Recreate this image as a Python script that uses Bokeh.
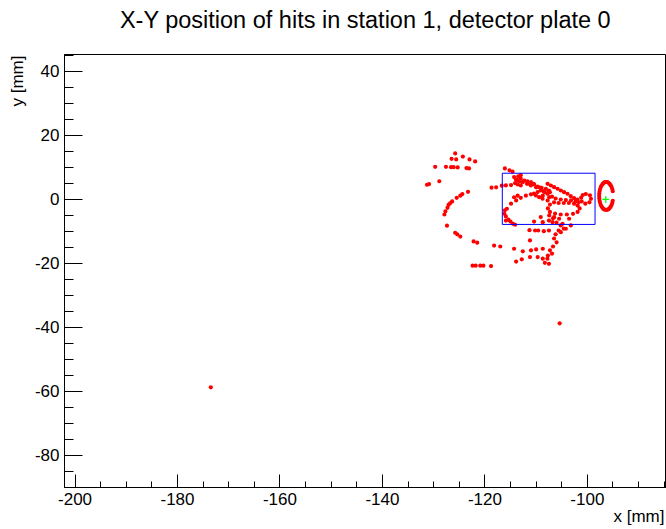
from bokeh.plotting import figure
from bokeh.models import Range1d, SingleIntervalTicker, Title, CustomJSTickFormatter
from bokeh.embed import file_html
from bokeh.resources import INLINE

title_text = "X-Y position of hits in station 1, detector plate 0"
x_title = "x [mm]"
y_title = "y [mm]"

# outer spiral hits
outer_x = [-125.8, -126.5, -125.6, -124.3, -123.0, -121.9, -129.7, -127.6, -126.6, -126.1,
           -125.3, -123.6, -123.1, -128.9, -131.3, -130.9, -123.3, -124.4, -124.8, -125.5,
           -126.4, -126.8, -127.1, -127.3, -127.7, -127.9, -127.4, -125.8, -125.4, -124.8,
           -122.2, -121.5, -122.4, -121.8, -120.9, -120.3, -118.8, -118.2, -117.0, -114.3,
           -112.6, -111.0, -110.0, -108.7, -113.9, -112.8, -111.2, -109.7, -108.7, -107.8,
           -108.3, -107.5, -118.7, -117.8, -116.7, -115.9, -114.9, -116.1, -115.2, -114.6,
           -111.3, -110.2, -109.6, -108.5, -107.5, -110.4, -109.1, -108.7, -107.5, -111.2]
outer_y = [14.4, 12.7, 12.5, 13.4, 12.5, 11.9, 10.2, 10.2, 10.1, 10.1,
           10.0, 9.8, 9.7, 5.7, 4.6, 4.8, 2.4, 1.7, 1.2, 0.5,
           -0.6, -1.2, -1.7, -2.6, -3.7, -4.7, -8.2, -10.4, -10.9, -11.6,
           -13.1, -13.5, -20.7, -20.7, -20.7, -20.7, -20.8, -14.4, -14.7, -15.4,
           -16.2, -15.9, -15.6, -15.4, -19.4, -18.7, -18.0, -18.0, -18.5, -18.5,
           -19.8, -20.1, 3.7, 3.8, 4.3, 4.4, 4.5, 9.7, 9.1, 8.7,
           -9.6, -9.7, -9.7, -9.9, -9.7, -6.9, -5.5, -7.1, -6.6, -12.8]

# large loop inside the box
arc_x = [-111.0, -112.0, -113.0, -113.9, -114.9, -115.7, -116.2, -116.1, -115.9, -115.9,
         -115.4, -115.0, -114.5, -114.1, -114.3, -113.6]
arc_y = [1.6, 1.2, 0.5, -0.3, -1.3, -2.9, -4.5, -3.4, -5.3, -6.6,
         -6.3, -6.9, -7.6, -7.9, 0.7, 1.2]

# zig-zag band
band_x = [-114.3, -113.7, -114.1, -113.6, -113.0, -113.0, -112.3, -111.7, -111.3, -111.0,
          -110.4, -110.0, -109.4, -109.1, -108.4, -107.8, -108.1, -109.7, -110.4, -108.7,
          -107.5, -113.5, -113.0, -106.9, -106.2, -105.2, -104.2, -103.2, -102.3, -101.7]
band_y = [7.0, 6.1, 5.1, 4.7, 4.4, 6.5, 5.9, 5.7, 4.9, 5.4,
          4.7, 3.8, 3.8, 2.8, 2.3, 1.8, 3.3, 2.3, 1.8, 1.2,
          2.8, 7.2, 7.6, 0.9, 0.3, 0.0, -0.2, -0.3, -0.6, -0.9]

# continuation of the band towards the curl
band2_x = [-107.76, -107.12, -106.48, -105.82, -105.18, -104.54, -103.88, -103.24, -102.59, -101.93,
           -113.93, -113.29, -112.63, -111.79, -111.01, -110.49, -109.71, -108.93, -108.54, -107.76,
           -107.32, -110.04, -109.40, -108.74, -107.76, -107.45]
band2_y = [4.90, 4.37, 3.84, 3.34, 2.81, 2.28, 1.78, 1.03, 0.41, 0.0,
           6.15, 5.71, 5.40, 4.90, 4.37, 4.90, 4.06, 3.65, 2.59, 1.97,
           2.28, 1.25, 0.72, 0.22, -0.31, 0.72]

# small ellipse
ell_x = [-107.7, -107.3, -106.5, -105.6, -104.6, -103.6, -102.6, -101.9, -101.5, -101.9,
         -102.8, -104.0, -105.2, -106.3, -107.3]
ell_y = [-2.8, -1.6, -0.9, -1.1, -1.1, -1.1, -1.3, -1.9, -2.8, -3.9,
         -4.5, -4.7, -4.7, -4.4, -3.9]

# small curl
curl_x = [-100.3, -99.5, -99.3, -99.6, -100.4, -101.1, -101.2, -100.9]
curl_y = [1.7, 1.3, 0.2, -0.9, -1.3, -0.6, 0.6, 1.4]

# hits below the ellipse
tail_x = [-106.7, -106.0, -105.2, -104.6, -105.6, -106.2, -106.5, -106.0, -106.7, -107.3,
          -106.9, -107.7, -107.45, -106.48, -105.51, -106.79, -104.84, -103.56, -104.20, -105.18,
          -103.23]
tail_y = [-5.9, -7.2, -8.1, -9.1, -9.7, -10.9, -12.2, -13.4, -14.7, -15.9,
          -16.9, -17.5, -4.99, -5.52, -6.02, -7.08, -7.58, -6.02, -9.14, -10.21,
          -8.11]

# C-shaped ring
ring_x = [-95.04, -95.14, -95.27, -95.45, -95.64, -95.86, -96.09, -96.32, -96.56, -96.79,
          -97.00, -97.20, -97.37, -97.51, -97.61, -97.67, -97.69, -97.67, -97.61, -97.51,
          -97.37, -97.20, -97.00, -96.79, -96.56, -96.32, -96.09, -95.86, -95.64, -95.45,
          -95.27, -95.14, -95.04]
ring_y = [2.59, 3.28, 3.90, 4.43, 4.87, 5.21, 5.40, 5.46, 5.40, 5.21,
          4.87, 4.43, 3.90, 3.28, 2.59, 1.84, 1.09, 0.34, -0.41, -1.09,
          -1.72, -2.25, -2.68, -3.03, -3.21, -3.28, -3.21, -3.03, -2.68, -2.25,
          -1.72, -1.09, -0.41]

# isolated hits
lone_x = [-105.4, -173.5]
lone_y = [-38.7, -58.7]

hit_x = outer_x + arc_x + band_x + band2_x + ell_x + curl_x + tail_x + ring_x + lone_x
hit_y = outer_y + arc_y + band_y + band2_y + ell_y + curl_y + tail_y + ring_y + lone_y

box_left = [-116.6]
box_right = [-98.5]
box_bottom = [-7.8]
box_top = [8.2]

beam_x = [-96.4]
beam_y = [0.0]

FONT = "Liberation Sans"

p = figure(width=666, height=529, title=None,
           x_range=Range1d(-202.06, -84.55), y_range=Range1d(-90.0, 45.3),
           output_backend="svg", toolbar_location=None,
           min_border_left=62, min_border_right=0, min_border_top=54, min_border_bottom=42)
p.background_fill_color = "white"
p.border_fill_color = "white"
p.outline_line_color = "black"
p.outline_line_width = 1
p.grid.visible = False

for ax in (p.xaxis[0], p.yaxis[0]):
    ax.ticker = SingleIntervalTicker(interval=20, num_minor_ticks=4)
    ax.formatter = CustomJSTickFormatter(code="return tick.toFixed(0);")
    ax.axis_line_color = "black"
    ax.major_tick_line_color = "black"
    ax.minor_tick_line_color = "black"
    ax.major_tick_out = 0
    ax.minor_tick_out = 0
    ax.major_label_text_font = FONT
    ax.major_label_text_font_size = "17px"
    ax.major_label_text_color = "black"
    ax.major_label_standoff = 5

p.xaxis.major_tick_in = 13
p.xaxis.minor_tick_in = 6
p.yaxis.major_tick_in = 18
p.yaxis.minor_tick_in = 9

p.scatter(hit_x, hit_y, marker="circle", size=4.2, fill_color="#ff0000", line_color=None)
p.quad(left=box_left, right=box_right, bottom=box_bottom, top=box_top,
       fill_color=None, line_color="#0000ff", line_width=1)
p.scatter(beam_x, beam_y, marker="cross", size=7, line_color="#00ff00", line_width=1.2)

# spacer between the frame and the title
p.add_layout(Title(text=" ", text_font_size="1px", standoff=19), "above")
p.add_layout(Title(text=title_text, align="center", vertical_align="bottom", standoff=0,
                   text_font=FONT, text_font_size="23.5px", text_font_style="normal",
                   text_color="black"), "above")
p.add_layout(Title(text=y_title, align="right", vertical_align="bottom", standoff=10, offset=1,
                   text_font=FONT, text_font_size="17px", text_font_style="normal",
                   text_color="black"), "left")
p.add_layout(Title(text=x_title, align="right", vertical_align="top", standoff=-2, offset=2,
                   text_font=FONT, text_font_size="17px", text_font_style="normal",
                   text_color="black"), "below")

open("out.html", "w").write(file_html(p, INLINE))
